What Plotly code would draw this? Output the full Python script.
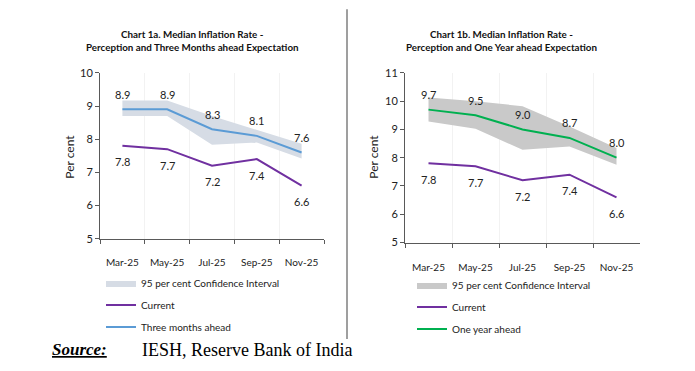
import plotly.graph_objects as go

months = ["Mar-25", "May-25", "Jul-25", "Sep-25", "Nov-25"]
current = [7.8, 7.7, 7.2, 7.4, 6.6]
three_month = [8.9, 8.9, 8.3, 8.1, 7.6]
three_lower = [8.70, 8.70, 7.83, 7.90, 7.42]
three_upper = [9.17, 9.17, 8.70, 8.28, 7.86]
one_year = [9.7, 9.5, 9.0, 8.7, 8.0]
one_lower = [9.28, 9.02, 8.28, 8.40, 7.75]
one_upper = [10.13, 10.00, 9.82, 9.10, 8.34]

OFF = 8
W, H = 695 - OFF, 371 - OFF
FONT = "Lato"
PURPLE = "#7030A0"
BLUE = "#5B9BD5"
GREEN = "#00B050"
BAND1 = "#D6DCE5"
BAND2 = "#C9C9C9"

fig = go.Figure()

def add_panel(xa, ya, lower, upper, exp, exp_name, exp_color, band_color, legend):
    fig.add_trace(go.Scatter(x=months, y=lower, xaxis=xa, yaxis=ya, mode="lines",
                             line=dict(width=0, color=band_color), showlegend=False,
                             hoverinfo="skip", legend=legend, legendgroup=legend + "a"))
    fig.add_trace(go.Scatter(x=months, y=upper, xaxis=xa, yaxis=ya, mode="lines",
                             fill="tonexty", fillcolor=band_color,
                             line=dict(width=0, color=band_color),
                             name="95 per cent Confidence Interval", legend=legend,
                             legendgroup=legend + "a"))
    fig.add_trace(go.Scatter(x=months, y=current, xaxis=xa, yaxis=ya, mode="lines",
                             line=dict(width=2, color=PURPLE), name="Current", legend=legend,
                             legendgroup=legend + "b"))
    fig.add_trace(go.Scatter(x=months, y=exp, xaxis=xa, yaxis=ya, mode="lines",
                             line=dict(width=2, color=exp_color), name=exp_name, legend=legend,
                             legendgroup=legend + "c"))
    for m, v in zip(months, exp):
        fig.add_annotation(x=m, y=v, xref=xa, yref=ya, text=f"{v:.1f}", showarrow=False,
                           yshift=15, font=dict(family=FONT, size=11, color="#222"))
    for m, v in zip(months, current):
        fig.add_annotation(x=m, y=v, xref=xa, yref=ya, text=f"{v:.1f}", showarrow=False,
                           yshift=-16, font=dict(family=FONT, size=11, color="#222"))

add_panel("x", "y", three_lower, three_upper, three_month, "Three months ahead", BLUE, BAND1, "legend")
add_panel("x2", "y2", one_lower, one_upper, one_year, "One year ahead", GREEN, BAND2, "legend2")

axis_common = dict(showline=True, linecolor="#595959", linewidth=1, ticks="outside",
                   ticklen=4, tickcolor="#595959")
xfont = dict(family=FONT, size=10, color="#222")
yfont = dict(family=FONT, size=11, color="#222")

def px(x):
    return (x - OFF) / W

def py(y):
    return 1 - (y - OFF) / H

legend_common = dict(xanchor="left", yanchor="top", bgcolor="rgba(0,0,0,0)",
                     font=dict(family=FONT, size=10, color="#222"), tracegroupgap=3,
                     itemwidth=30, traceorder="grouped")

fig.update_layout(
    width=W, height=H,
    margin=dict(l=0, r=0, t=0, b=0),
    paper_bgcolor="white", plot_bgcolor="white",
    xaxis=dict(domain=[px(100), px(324)], anchor="y", type="category", tickson="boundaries",
               showgrid=True, gridcolor="#F2F2F2", range=[-0.5, 4.5], tickangle=0,
               ticklabelstandoff=14, tickfont=xfont, **axis_common),
    yaxis=dict(domain=[py(240), py(68)], anchor="x", range=[5, 10], dtick=1, showgrid=False,
               tickfont=yfont, **axis_common),
    xaxis2=dict(domain=[px(405), px(640)], anchor="y2", type="category", tickson="boundaries",
                showgrid=True, gridcolor="#F2F2F2", range=[-0.5, 4.5], tickangle=0,
                ticklabelstandoff=15, tickfont=xfont, **axis_common),
    yaxis2=dict(domain=[py(244), py(68)], anchor="x2", range=[5, 11], dtick=1, showgrid=False,
                tickfont=yfont, **axis_common),
    legend=dict(x=px(101), y=py(271), **legend_common),
    legend2=dict(x=px(412), y=py(273), **legend_common),
    showlegend=True,
)

# titles
for cx, l1, l2 in [(192, "Chart 1a. Median Inflation Rate -", "Perception and Three Months ahead Expectation"),
                   (501, "Chart 1b. Median Inflation Rate -", "Perception and One Year ahead Expectation")]:
    fig.add_annotation(x=px(cx), y=py(28), xref="paper", yref="paper", showarrow=False,
                       xanchor="center", yanchor="middle",
                       text=f"<b>{l1}</b>", font=dict(family=FONT, size=9.8, color="#111"))
    fig.add_annotation(x=px(cx), y=py(41), xref="paper", yref="paper", showarrow=False,
                       xanchor="center", yanchor="middle",
                       text=f"<b>{l2}</b>", font=dict(family=FONT, size=9.8, color="#111"))

# y-axis titles
for cx in [70, 374]:
    fig.add_annotation(x=px(cx), y=py(155), xref="paper", yref="paper", showarrow=False,
                       xanchor="center", yanchor="middle",
                       text="Per cent", textangle=-90, font=dict(family=FONT, size=12, color="#222"))

# separator
fig.add_shape(type="line", xref="paper", yref="paper", x0=px(347), x1=px(347), y0=py(2), y1=py(344),
              line=dict(color="#7F7F7F", width=1.5))

# source
fig.add_annotation(x=px(50), y=py(355), xref="paper", yref="paper", showarrow=False,
                   xanchor="left", yanchor="middle",
                   text="<b><i><u>Source:</u></i></b>",
                   font=dict(family="Liberation Serif", size=17, color="#000"))
fig.add_annotation(x=px(140), y=py(355), xref="paper", yref="paper", showarrow=False,
                   xanchor="left", yanchor="middle",
                   text="IESH, Reserve Bank of India",
                   font=dict(family="Liberation Serif", size=18, color="#000"))

fig.write_html("out.html")
